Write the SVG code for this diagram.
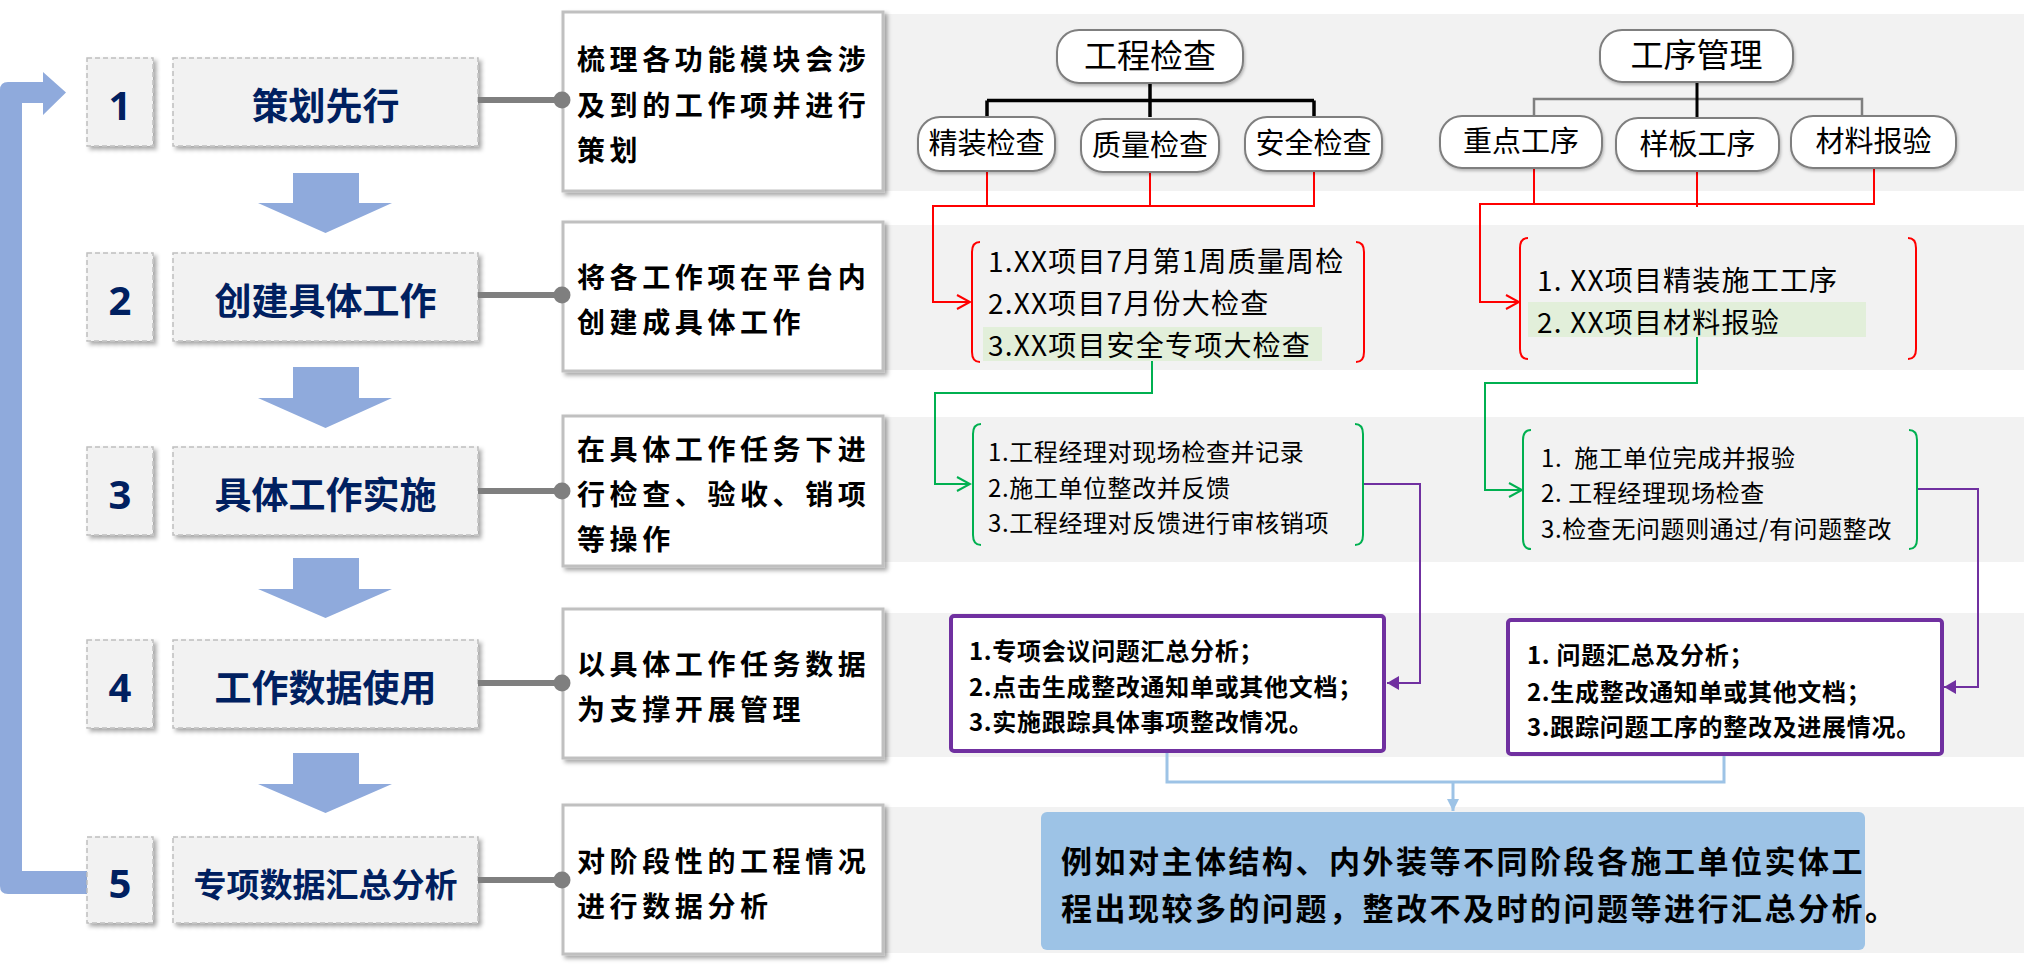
<svg xmlns="http://www.w3.org/2000/svg" width="2024" height="967" viewBox="0 0 2024 967">
<style>
  .cjk{font-family:"Noto Sans CJK SC","Noto Sans",sans-serif;}
  .step{fill:#f2f2f2;stroke:#bfbfbf;stroke-width:1.5;stroke-dasharray:5 3;filter:url(#sh);}
  .stepnum{font-size:40px;font-weight:700;fill:#002060;text-anchor:middle;font-family:"Noto Sans","Liberation Sans",sans-serif;}
  .steptxt{font-size:37px;font-weight:700;fill:#002060;text-anchor:middle;}
  .band{fill:#f2f2f2;}
  .desc{fill:#ffffff;stroke:#c0c0c0;stroke-width:3;filter:url(#sh);}
  .desctxt{font-size:28px;font-weight:700;fill:#000;letter-spacing:4.6px;}
  .down{fill:#8faadc;}
  .gline{stroke:#7f7f7f;stroke-width:6;fill:none;}
  .gdot{fill:#7f7f7f;}
  .tnode{fill:#ffffff;stroke:#7f7f7f;stroke-width:2;filter:url(#sh2);}
  .ttop{font-size:33px;fill:#000;text-anchor:middle;}
  .tsub{font-size:29px;fill:#000;text-anchor:middle;}
  .red{stroke:#ff0000;stroke-width:2;fill:none;}
  .green{stroke:#00b050;stroke-width:2;fill:none;}
  .purple{stroke:#7030a0;stroke-width:2;fill:none;}
  .blue{stroke:#9dc3e6;stroke-width:3;fill:none;}
  .hl{fill:#e2efda;}
  .rtxt{font-size:28px;fill:#000;letter-spacing:1.2px;}
  .gtxt{font-size:24px;fill:#000;letter-spacing:0.6px;}
  .pbox{fill:#ffffff;stroke:#7030a0;stroke-width:4;}
  .ptxt{font-size:24px;font-weight:700;fill:#000;letter-spacing:0.7px;}
  .btxt{font-size:31px;font-weight:700;fill:#000;letter-spacing:2.5px;}
</style>
<defs>
  <filter id="sh" x="-10%" y="-10%" width="130%" height="130%">
    <feDropShadow dx="3" dy="3" stdDeviation="2" flood-color="#000" flood-opacity="0.35"/>
  </filter>
  <filter id="sh2" x="-10%" y="-10%" width="130%" height="130%">
    <feDropShadow dx="1" dy="2" stdDeviation="1.5" flood-color="#000" flood-opacity="0.25"/>
  </filter>
  <marker id="arR" markerUnits="userSpaceOnUse" markerWidth="16" markerHeight="16" viewBox="0 0 16 16" refX="14" refY="8" orient="auto">
    <path d="M1,1 L14,8 L1,15" fill="none" stroke="#ff0000" stroke-width="2"/>
  </marker>
  <marker id="arG" markerUnits="userSpaceOnUse" markerWidth="16" markerHeight="16" viewBox="0 0 16 16" refX="14" refY="8" orient="auto">
    <path d="M1,1 L14,8 L1,15" fill="none" stroke="#00b050" stroke-width="2"/>
  </marker>
  <marker id="arP" markerUnits="userSpaceOnUse" markerWidth="12" markerHeight="14" viewBox="0 0 12 14" refX="12" refY="7" orient="auto">
    <path d="M0,0 L12,7 L0,14 Z" fill="#7030a0"/>
  </marker>
  <marker id="arB" markerUnits="userSpaceOnUse" markerWidth="12" markerHeight="12" viewBox="0 0 12 12" refX="12" refY="6" orient="auto">
    <path d="M0,0 L12,6 L0,12 Z" fill="#9dc3e6"/>
  </marker>
</defs>

<rect width="2024" height="967" fill="#ffffff"/>

<!-- background bands -->
<g id="bands">
  <rect class="band" x="563" y="14" width="1461" height="177"/>
  <rect class="band" x="563" y="225" width="1461" height="145"/>
  <rect class="band" x="563" y="417" width="1461" height="145"/>
  <rect class="band" x="563" y="613" width="1461" height="144"/>
  <rect class="band" x="563" y="807" width="1461" height="146"/>
</g>

<!-- loop arrow -->
<g id="loop-arrow">
  <path class="down" d="M88 871 L22 871 L22 103 L43 103 L43 115 L66 92.5 L43 72 L43 82 L8 82 Q0 82 0 90 L0 886 Q0 894 8 894 L88 894 Z"/>
</g>

<!-- down arrows -->
<g id="down-arrows">
  <polygon class="down" points="293,173 359,173 359,203 392,203 325.5,233 258,203 293,203"/>
  <polygon class="down" points="293,367 359,367 359,398 392,398 325.5,428 258,398 293,398"/>
  <polygon class="down" points="293,558 359,558 359,589 392,589 325.5,618 258,589 293,589"/>
  <polygon class="down" points="293,753 359,753 359,784 392,784 325.5,813 258,784 293,784"/>
</g>

<!-- step nodes -->
<g id="step1" class="cjk">
  <rect class="step" x="87" y="58" width="66" height="88"/>
  <rect class="step" x="173" y="58" width="305" height="88"/>
  <text class="stepnum" x="120" y="120">1</text>
  <text class="steptxt" x="325.5" y="120">策划先行</text>
</g>
<g id="step2" class="cjk">
  <rect class="step" x="87" y="253" width="66" height="88"/>
  <rect class="step" x="173" y="253" width="305" height="88"/>
  <text class="stepnum" x="120" y="315">2</text>
  <text class="steptxt" x="325.5" y="315">创建具体工作</text>
</g>
<g id="step3" class="cjk">
  <rect class="step" x="87" y="447" width="66" height="88"/>
  <rect class="step" x="173" y="447" width="305" height="88"/>
  <text class="stepnum" x="120" y="509">3</text>
  <text class="steptxt" x="325.5" y="509">具体工作实施</text>
</g>
<g id="step4" class="cjk">
  <rect class="step" x="87" y="640" width="66" height="88"/>
  <rect class="step" x="173" y="640" width="305" height="88"/>
  <text class="stepnum" x="120" y="702">4</text>
  <text class="steptxt" x="325.5" y="702">工作数据使用</text>
</g>
<g id="step5" class="cjk">
  <rect class="step" x="87" y="837" width="66" height="86"/>
  <rect class="step" x="173" y="837" width="305" height="86"/>
  <text class="stepnum" x="120" y="898">5</text>
  <text class="steptxt" x="325.5" y="897" style="font-size:33px">专项数据汇总分析</text>
</g>

<!-- description boxes -->
<g id="desc1" class="cjk">
  <rect class="desc" x="563" y="12" width="320" height="179"/>
  <text class="desctxt" x="577" y="70">梳理各功能模块会涉</text>
  <text class="desctxt" x="577" y="116">及到的工作项并进行</text>
  <text class="desctxt" x="577" y="161">策划</text>
</g>
<g id="desc2" class="cjk">
  <rect class="desc" x="563" y="222" width="320" height="149"/>
  <text class="desctxt" x="577" y="288">将各工作项在平台内</text>
  <text class="desctxt" x="577" y="333">创建成具体工作</text>
</g>
<g id="desc3" class="cjk">
  <rect class="desc" x="563" y="416" width="320" height="150"/>
  <text class="desctxt" x="577" y="460">在具体工作任务下进</text>
  <text class="desctxt" x="577" y="505">行检查、验收、销项</text>
  <text class="desctxt" x="577" y="550">等操作</text>
</g>
<g id="desc4" class="cjk">
  <rect class="desc" x="563" y="609" width="320" height="149"/>
  <text class="desctxt" x="577" y="675">以具体工作任务数据</text>
  <text class="desctxt" x="577" y="720">为支撑开展管理</text>
</g>
<g id="desc5" class="cjk">
  <rect class="desc" x="563" y="805" width="320" height="149"/>
  <text class="desctxt" x="577" y="872">对阶段性的工程情况</text>
  <text class="desctxt" x="577" y="917">进行数据分析</text>
</g>

<!-- connectors -->
<g id="connectors">
  <!-- step to description -->
  <line class="gline" x1="478" y1="100" x2="560" y2="100"/><circle class="gdot" cx="562" cy="100" r="8.5"/>
  <line class="gline" x1="478" y1="295" x2="560" y2="295"/><circle class="gdot" cx="562" cy="295" r="8.5"/>
  <line class="gline" x1="478" y1="491" x2="560" y2="491"/><circle class="gdot" cx="562" cy="491" r="8.5"/>
  <line class="gline" x1="478" y1="683" x2="560" y2="683"/><circle class="gdot" cx="562" cy="683" r="8.5"/>
  <line class="gline" x1="478" y1="880" x2="560" y2="880"/><circle class="gdot" cx="562" cy="880" r="8.5"/>

  <!-- tree 工程检查 -->
  <path d="M1150 83 V117 M987 100.5 H1314 M987 100.5 V117 M1314 100.5 V117" stroke="#000" stroke-width="3.5" fill="none"/>
  <!-- tree 工序管理 -->
  <path d="M1534 117 V99 H1862 V117" stroke="#808080" stroke-width="2.5" fill="none"/>
  <path d="M1697 82 V118" stroke="#000" stroke-width="3" fill="none"/>

  <!-- red -->
  <path class="red" d="M987 171 V206 M1150 172 V206 M1314 171 V206 H933 V302 H970" marker-end="url(#arR)"/>
  <path class="red" d="M1534 168 V204 M1697 171 V207 M1874 168 V204 H1480 V302 H1519" marker-end="url(#arR)"/>

  <!-- green -->
  <path class="green" d="M1152 361 V393 H935 V484 H970" marker-end="url(#arG)"/>
  <path class="green" d="M1697 337 V383 H1485 V490 H1522" marker-end="url(#arG)"/>

  <!-- purple -->
  <path class="purple" d="M1363 484 H1420 V683 H1387" marker-end="url(#arP)"/>
  <path class="purple" d="M1917 489 H1978 V687 H1944" marker-end="url(#arP)"/>

  <!-- blue -->
  <path class="blue" d="M1167 751 V782 H1724 V755"/>
  <path class="blue" d="M1453 782 V811" marker-end="url(#arB)"/>
</g>

<!-- tree nodes -->
<g id="node-gcjc" class="cjk">
  <rect class="tnode" x="1057" y="30" width="186" height="53" rx="22"/>
  <text class="ttop" x="1150" y="68">工程检查</text>
</g>
<g id="node-jzjc" class="cjk">
  <rect class="tnode" x="918" y="117" width="137" height="54" rx="22"/>
  <text class="tsub" x="986.5" y="154">精装检查</text>
</g>
<g id="node-zljc" class="cjk">
  <rect class="tnode" x="1081" y="119" width="138" height="53" rx="22"/>
  <text class="tsub" x="1150" y="156">质量检查</text>
</g>
<g id="node-aqjc" class="cjk">
  <rect class="tnode" x="1245" y="117" width="137" height="54" rx="22"/>
  <text class="tsub" x="1313.5" y="154">安全检查</text>
</g>
<g id="node-gxgl" class="cjk">
  <rect class="tnode" x="1600" y="30" width="193" height="52" rx="22"/>
  <text class="ttop" x="1696.5" y="67">工序管理</text>
</g>
<g id="node-zdgx" class="cjk">
  <rect class="tnode" x="1440" y="116" width="162" height="52" rx="22"/>
  <text class="tsub" x="1521" y="152">重点工序</text>
</g>
<g id="node-ybgx" class="cjk">
  <rect class="tnode" x="1616" y="118" width="163" height="53" rx="22"/>
  <text class="tsub" x="1697.5" y="155">样板工序</text>
</g>
<g id="node-clby" class="cjk">
  <rect class="tnode" x="1791" y="116" width="165" height="52" rx="22"/>
  <text class="tsub" x="1873.5" y="152">材料报验</text>
</g>

<!-- red lists -->
<g id="list-red-left" class="cjk">
  <rect class="hl" x="983" y="327" width="339" height="34"/>
  <path class="red" d="M980 242 Q972 242 972 252 V352 Q972 362 980 362 M1356 242 Q1364 242 1364 252 V352 Q1364 362 1356 362"/>
  <text class="rtxt" x="988" y="272">1.XX项目7月第1周质量周检</text>
  <text class="rtxt" x="988" y="314">2.XX项目7月份大检查</text>
  <text class="rtxt" x="988" y="356">3.XX项目安全专项大检查</text>
</g>
<g id="list-red-right" class="cjk">
  <rect class="hl" x="1528" y="302" width="338" height="35"/>
  <path class="red" d="M1528 238 Q1520 238 1520 248 V349 Q1520 359 1528 359 M1908 238 Q1916 238 1916 248 V349 Q1916 359 1908 359"/>
  <text class="rtxt" x="1537" y="291">1. XX项目精装施工工序</text>
  <text class="rtxt" x="1537" y="333">2. XX项目材料报验</text>
</g>

<!-- green lists -->
<g id="list-green-left" class="cjk">
  <path class="green" d="M981 424 Q973 424 973 434 V535 Q973 545 981 545 M1355 424 Q1363 424 1363 434 V535 Q1363 545 1355 545"/>
  <text class="gtxt" x="988" y="461">1.工程经理对现场检查并记录</text>
  <text class="gtxt" x="988" y="497">2.施工单位整改并反馈</text>
  <text class="gtxt" x="988" y="532">3.工程经理对反馈进行审核销项</text>
</g>
<g id="list-green-right" class="cjk">
  <path class="green" d="M1531 430 Q1523 430 1523 440 V539 Q1523 549 1531 549 M1909 430 Q1917 430 1917 440 V539 Q1917 549 1909 549"/>
  <text class="gtxt" x="1541" y="467" xml:space="preserve">1.  施工单位完成并报验</text>
  <text class="gtxt" x="1541" y="502">2. 工程经理现场检查</text>
  <text class="gtxt" x="1541" y="538">3.检查无问题则通过/有问题整改</text>
</g>

<!-- purple boxes -->
<g id="box-purple-left" class="cjk">
  <rect class="pbox" x="951" y="616" width="433" height="135" rx="3"/>
  <text class="ptxt" x="969" y="660">1.专项会议问题汇总分析；</text>
  <text class="ptxt" x="969" y="696">2.点击生成整改通知单或其他文档；</text>
  <text class="ptxt" x="969" y="731">3.实施跟踪具体事项整改情况。</text>
</g>
<g id="box-purple-right" class="cjk">
  <rect class="pbox" x="1508" y="620" width="434" height="134" rx="3"/>
  <text class="ptxt" x="1527" y="664">1. 问题汇总及分析；</text>
  <text class="ptxt" x="1527" y="701">2.生成整改通知单或其他文档；</text>
  <text class="ptxt" x="1527" y="736">3.跟踪问题工序的整改及进展情况。</text>
</g>

<!-- summary box -->
<g id="box-summary" class="cjk">
  <rect x="1041" y="812" width="824" height="138" rx="6" fill="#9dc3e6"/>
  <text class="btxt" x="1061" y="873">例如对主体结构、内外装等不同阶段各施工单位实体工</text>
  <text class="btxt" x="1061" y="920">程出现较多的问题，整改不及时的问题等进行汇总分析。</text>
</g>
</svg>
